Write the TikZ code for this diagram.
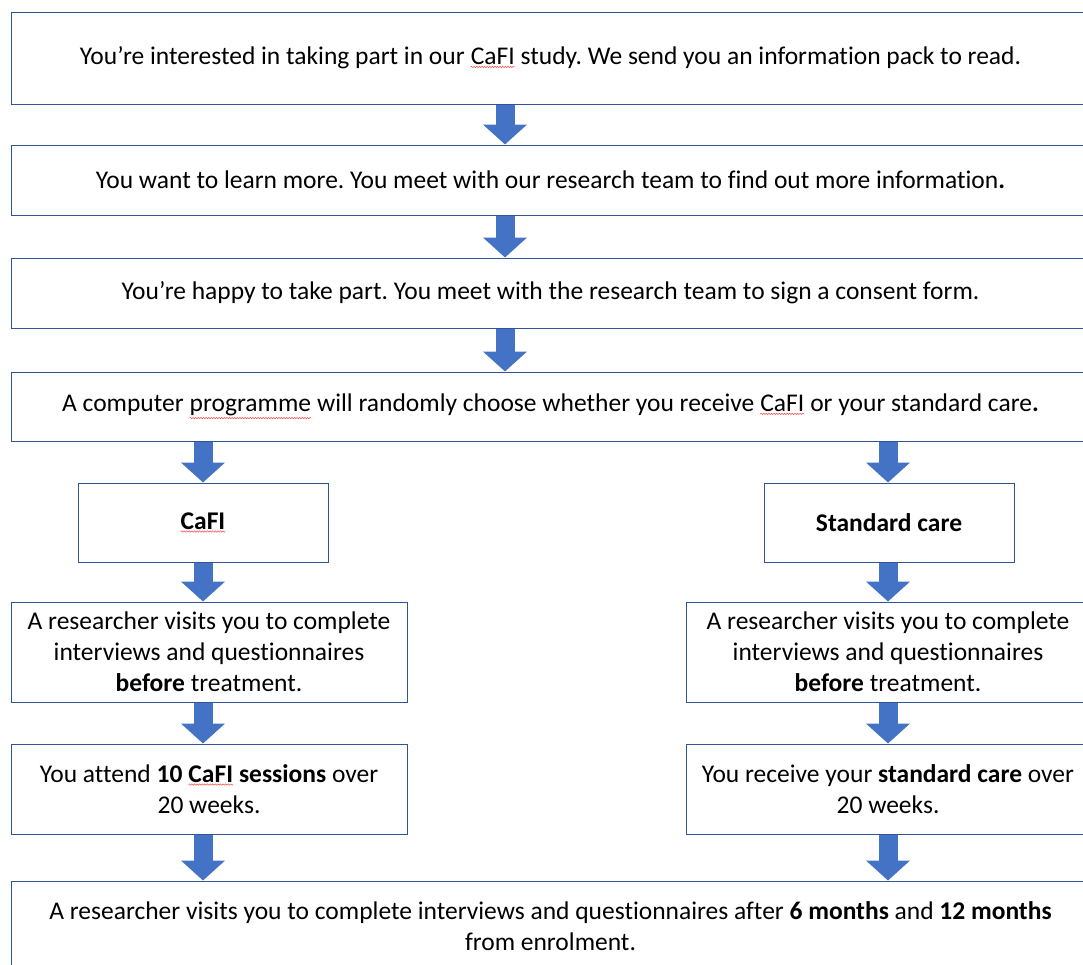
\documentclass[tikz,border=0pt]{standalone}
\usepackage{fontspec}
\setmainfont[Ligatures=NoCommon]{Carlito}
\frenchspacing
\usetikzlibrary{arrows.meta,decorations.pathmorphing}

\definecolor{boxline}{HTML}{2F5597}
\definecolor{arrowblue}{HTML}{4472C4}

% red spell-check squiggle under a word
\newcommand{\squig}[1]{\tikz[baseline=(w.base),x=1cm,y=1cm]{\node[inner sep=0pt,outer sep=0pt,
    minimum size=0pt,draw=none,fill=none] (w) {#1};
  \draw[red!70,line width=0.5pt,decorate,decoration={snake,amplitude=0.7pt,segment length=2.6pt}]
    ([yshift=-2pt]w.south west) -- ([yshift=-2pt]w.south east);}}

\tikzset{
  box/.style={draw=boxline, line width=1pt, fill=white, inner sep=2pt, align=center},
  flow/.style={line width=19pt, draw=arrowblue, -{Triangle[width=43pt,length=20pt]}},
}

\begin{document}
\begin{tikzpicture}[x=1pt,y=-1pt,font=\fontsize{25.5}{31}\selectfont]
  \useasboundingbox (0,0) rectangle (1083,964);
  \clip (0,0) rectangle (1083,964);

  % main steps
  \node[box, minimum width=1079pt, minimum height=92pt] (s1) at (550.5,58)
    {You’re interested in taking part in our \squig{CaFI} study. We send you an information pack to read.};
  \node[box, minimum width=1079pt, minimum height=70pt] (s2) at (550.5,180)
    {You want to learn more. You meet with our research team to find out more information\textbf{.}};
  \node[box, minimum width=1079pt, minimum height=70pt] (s3) at (550.5,293)
    {You’re happy to take part. You meet with the research team to sign a consent form.};
  \node[box, minimum width=1079pt, minimum height=69pt] (s4) at (550.5,406.5)
    {A computer \squig{programme} will randomly choose whether you receive \squig{CaFI} or your standard care\textbf{.}};

  % the two arms
  \node[box, minimum width=250pt, minimum height=79pt] (cafi) at (203,522.5) {\textbf{\squig{CaFI}}};
  \node[box, minimum width=250pt, minimum height=79pt] (std) at (889,522.5) {\textbf{Standard care}};

  \node[box, minimum width=396pt, minimum height=100pt] (cafiA) at (209,652)
    {A researcher visits you to complete\\ interviews and questionnaires\\ \textbf{before} treatment.};
  \node[box, minimum width=404pt, minimum height=100pt] (stdA) at (888,652)
    {A researcher visits you to complete\\ interviews and questionnaires\\ \textbf{before} treatment.};

  \node[box, minimum width=396pt, minimum height=90pt] (cafiB) at (209,789)
    {You attend \textbf{10 \squig{CaFI} sessions} over\\ 20 weeks.};
  \node[box, minimum width=404pt, minimum height=90pt] (stdB) at (888,789)
    {You receive your \textbf{standard care} over\\ 20 weeks.};

  \node[box, minimum width=1079pt, minimum height=90pt] (fin) at (550.5,926)
    {A researcher visits you to complete interviews and questionnaires after \textbf{6 months} and \textbf{12 months}\\
     from enrolment.};

  % arrows
  \coordinate (ax) at (505,0);
  \coordinate (lx) at (203,0);
  \coordinate (rx) at (888,0);
  \draw[flow] (s1.south -| ax) -- (s2.north -| ax);
  \draw[flow] (s2.south -| ax) -- (s3.north -| ax);
  \draw[flow] (s3.south -| ax) -- (s4.north -| ax);
  \draw[flow] (s4.south -| lx) -- (cafi.north -| lx);
  \draw[flow] (s4.south -| rx) -- (std.north -| rx);
  \draw[flow] (cafi.south -| lx) -- (cafiA.north -| lx);
  \draw[flow] (std.south -| rx) -- (stdA.north -| rx);
  \draw[flow] (cafiA.south -| lx) -- (cafiB.north -| lx);
  \draw[flow] (stdA.south -| rx) -- (stdB.north -| rx);
  \draw[flow] (cafiB.south -| lx) -- (fin.north -| lx);
  \draw[flow] (stdB.south -| rx) -- (fin.north -| rx);
\end{tikzpicture}
\end{document}
